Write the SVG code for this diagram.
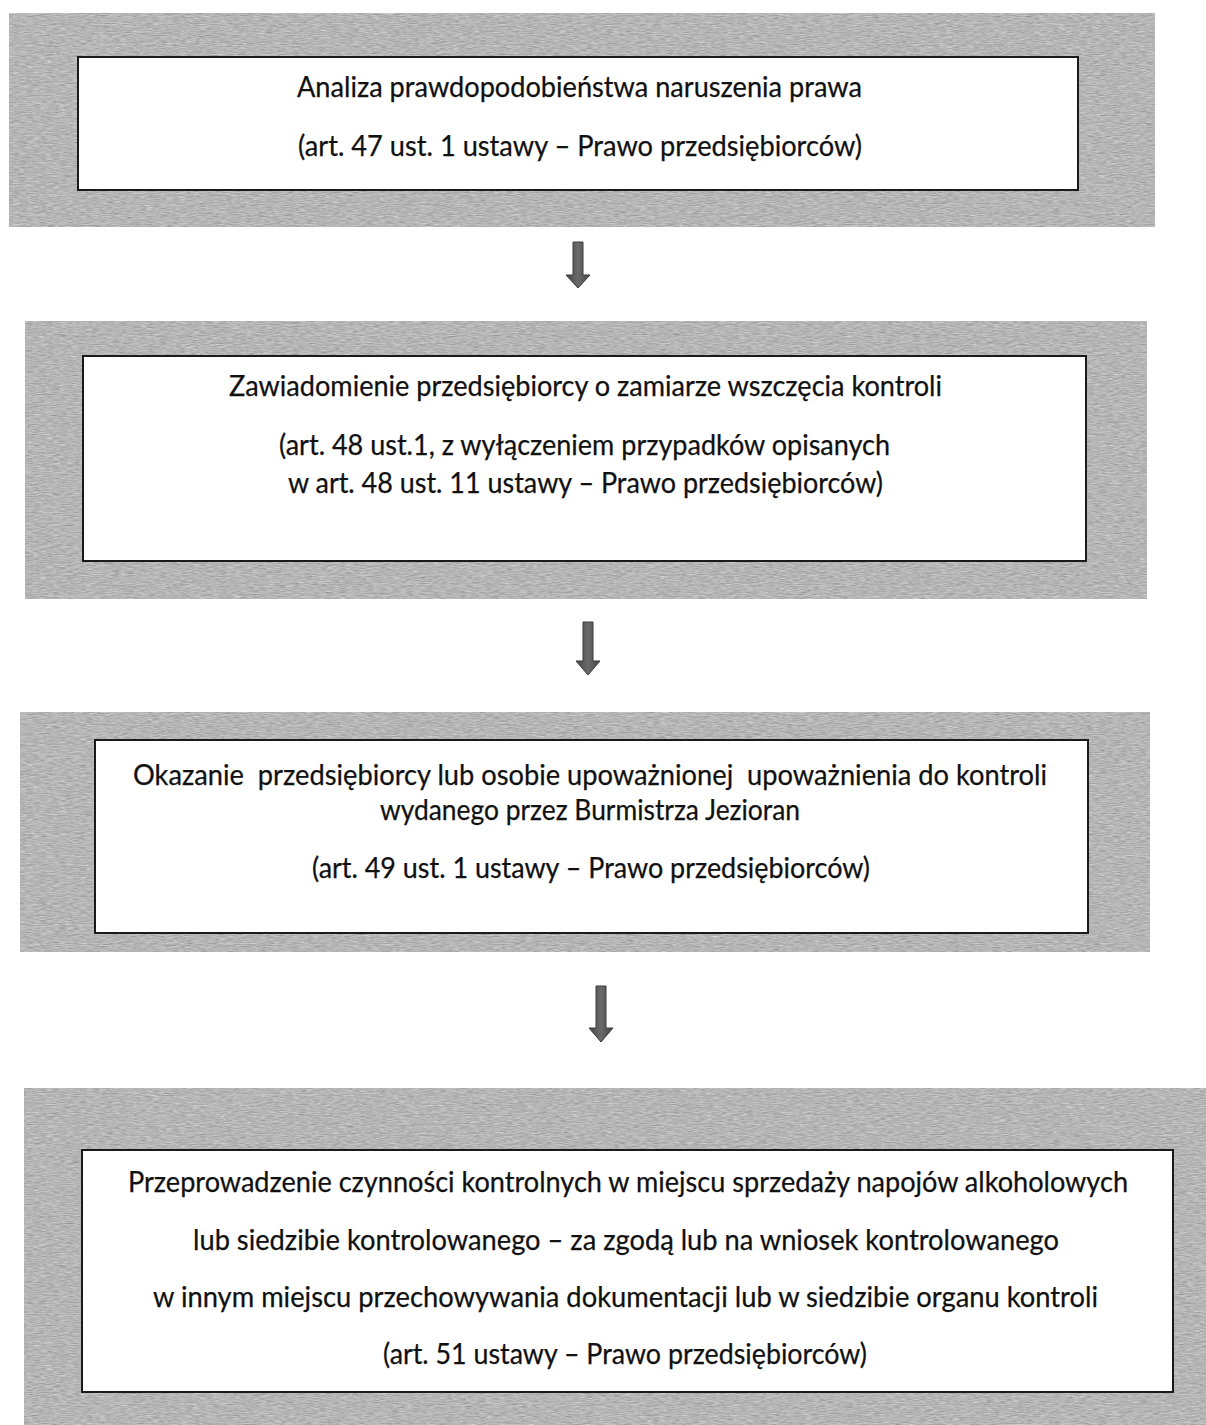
<svg xmlns="http://www.w3.org/2000/svg" width="1206" height="1425" viewBox="0 0 1206 1425">
<style>
.frame{fill:#b0b0b0;stroke:#4a4a4a;stroke-width:2;filter:url(#grain)}
.inner{fill:#ffffff;stroke:#1a1a1a;stroke-width:2}
.t{font-family:"Lato","Open Sans","Liberation Sans",sans-serif;font-size:28px;fill:#111111;stroke:#111111;stroke-width:0.25;text-anchor:middle}
.arrow{fill:url(#ag);stroke:#3a3a3a;stroke-width:1}
</style>
<defs>
<filter id="grain" x="0" y="0" width="1" height="1" color-interpolation-filters="sRGB">
<feTurbulence type="fractalNoise" baseFrequency="0.15 1.1" numOctaves="2" seed="4" result="n"/>
<feColorMatrix in="n" type="matrix" values="0.16 0.16 0.16 0 0.47  0.16 0.16 0.16 0 0.47  0.16 0.16 0.16 0 0.47  0 0 0 0 1" result="g"/>
<feComposite in="g" in2="SourceGraphic" operator="in"/>
</filter>
<linearGradient id="ag" x1="0" y1="0" x2="1" y2="0">
<stop offset="0" stop-color="#464646"/>
<stop offset="0.5" stop-color="#6a6a6a"/>
<stop offset="1" stop-color="#464646"/>
</linearGradient>
</defs>

<g id="node1">
<rect class="frame" x="9" y="13" width="1146" height="214"/>
<rect class="inner" x="78" y="57" width="1000" height="133"/>
<text class="t" x="579.5" y="97" textLength="565" lengthAdjust="spacingAndGlyphs">Analiza prawdopodobieństwa naruszenia prawa</text>
<text class="t" x="580" y="156" textLength="564" lengthAdjust="spacingAndGlyphs">(art. 47 ust. 1 ustawy – Prawo przedsiębiorców)</text>
</g>

<g id="node2">
<rect class="frame" x="25" y="321" width="1122" height="278"/>
<rect class="inner" x="83" y="356" width="1003" height="205"/>
<text class="t" x="585.5" y="396" textLength="713" lengthAdjust="spacingAndGlyphs">Zawiadomienie przedsiębiorcy o zamiarze wszczęcia kontroli</text>
<text class="t" x="584.5" y="455" textLength="611" lengthAdjust="spacingAndGlyphs">(art. 48 ust.1, z wyłączeniem przypadków opisanych</text>
<text class="t" x="585.5" y="493" textLength="595" lengthAdjust="spacingAndGlyphs">w art. 48 ust. 11 ustawy – Prawo przedsiębiorców)</text>
</g>

<g id="node3">
<rect class="frame" x="20" y="712" width="1130" height="240"/>
<rect class="inner" x="95" y="740" width="993" height="193"/>
<text class="t" x="590" y="785" textLength="914" lengthAdjust="spacingAndGlyphs" xml:space="preserve">Okazanie  przedsiębiorcy lub osobie upoważnionej  upoważnienia do kontroli</text>
<text class="t" x="590" y="820" textLength="420" lengthAdjust="spacingAndGlyphs">wydanego przez Burmistrza Jezioran</text>
<text class="t" x="591" y="878" textLength="558" lengthAdjust="spacingAndGlyphs">(art. 49 ust. 1 ustawy – Prawo przedsiębiorców)</text>
</g>

<g id="node4">
<rect class="frame" x="24" y="1088" width="1190" height="345"/>
<rect class="inner" x="82" y="1150" width="1091" height="242"/>
<text class="t" x="628" y="1192" textLength="1000" lengthAdjust="spacingAndGlyphs">Przeprowadzenie czynności kontrolnych w miejscu sprzedaży napojów alkoholowych</text>
<text class="t" x="626" y="1250" textLength="866" lengthAdjust="spacingAndGlyphs">lub siedzibie kontrolowanego – za zgodą lub na wniosek kontrolowanego</text>
<text class="t" x="625.5" y="1307" textLength="945" lengthAdjust="spacingAndGlyphs">w innym miejscu przechowywania dokumentacji lub w siedzibie organu kontroli</text>
<text class="t" x="625" y="1364" textLength="484" lengthAdjust="spacingAndGlyphs">(art. 51 ustawy – Prawo przedsiębiorców)</text>
</g>

<g id="connectors">
<path class="arrow" d="M573,242 H583 V275 H590 L578,288 L566,275 H573 Z"/>
<path class="arrow" d="M583,622 H593 V661 H600 L588,675 L576,661 H583 Z"/>
<path class="arrow" d="M596,986 H606 V1028 H613 L601,1042 L589,1028 H596 Z"/>
</g>
</svg>
